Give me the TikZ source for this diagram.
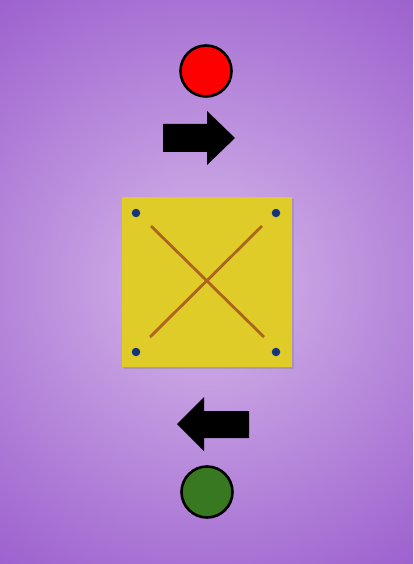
\documentclass[tikz,border=0pt]{standalone}
\usetikzlibrary{shadows}

\definecolor{bgin}{RGB}{214,184,234}
\definecolor{bgout}{RGB}{156,96,206}
\definecolor{plate}{RGB}{224,204,40}
\definecolor{cross}{RGB}{172,100,30}
\definecolor{pin}{RGB}{20,52,130}
\definecolor{go}{RGB}{56,120,32}

\begin{document}
\begin{tikzpicture}[
  x=1pt,
  y=-1pt,
  lamp/.style={
    circle,
    draw=black,
    line width=2.6pt,
    minimum size=51pt,
    inner sep=0pt
  },
  board/.style={
    rectangle,
    fill=plate,
    minimum width=170pt,
    minimum height=170pt,
    inner sep=0pt,
    drop shadow={shadow xshift=2pt, shadow yshift=-2pt, opacity=0.35}
  },
  dot/.style={
    circle,
    fill=pin,
    minimum size=8.5pt,
    inner sep=0pt
  },
  diag/.style={
    draw=cross,
    line width=2.8pt
  },
  bigarr/.style={
    fill=black
  }
]

% =========================================================
% FONDO
% =========================================================

\useasboundingbox (0,0) rectangle (413,564);

\begin{scope}
  \clip (0,0) rectangle (413,564);
  \shade[inner color=bgin, outer color=bgout]
    (206,282) circle (355);
\end{scope}


% =========================================================
% SEMAFOROS
% =========================================================

\node[lamp, fill=red] (stop) at (206,71) {};

\node[lamp, fill=go] (start) at (207,492) {};


% =========================================================
% FLECHAS
% =========================================================

\fill[bigarr]
  (163,124) -- (207,124) -- (207,111) -- (235,138)
  -- (207,165) -- (207,152) -- (163,152) -- cycle;

\fill[bigarr]
  (249,411) -- (204,411) -- (204,397) -- (177,424)
  -- (204,451) -- (204,438) -- (249,438) -- cycle;


% =========================================================
% PLACA
% =========================================================

\node[board] (plate) at (207,282) {};

\node[dot] (nw) at (136,213) {};
\node[dot] (ne) at (276,213) {};
\node[dot] (sw) at (136,352) {};
\node[dot] (se) at (276,352) {};

\coordinate (a1) at (151,226);
\coordinate (a2) at (264,337);
\coordinate (b1) at (262,226);
\coordinate (b2) at (150,337);

\draw[diag] (a1) -- (a2);
\draw[diag] (b1) -- (b2);

\end{tikzpicture}
\end{document}
